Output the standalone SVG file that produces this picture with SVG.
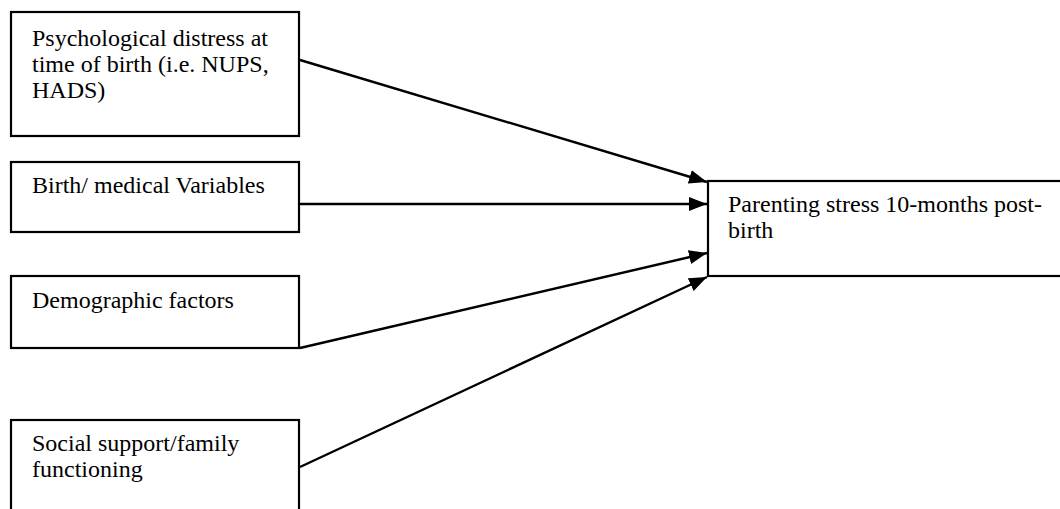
<svg xmlns="http://www.w3.org/2000/svg" width="1060" height="509" viewBox="0 0 1060 509">
  <style>
    .box { fill: #ffffff; stroke: #000000; stroke-width: 2.2; }
    .lbl { font-family: "Liberation Serif", "Times New Roman", serif; font-size: 24px; fill: #000000; }
    .edge { stroke: #000000; stroke-width: 2.4; fill: none; marker-end: url(#arrow); }
  </style>
  <defs>
    <marker id="arrow" markerUnits="userSpaceOnUse" viewBox="0 0 18 14" refX="18" refY="7" markerWidth="18" markerHeight="14" orient="auto">
      <path d="M0,0 L18,7 L0,14 Z" fill="#000000"/>
    </marker>
  </defs>
  <rect width="1060" height="509" fill="#ffffff"/>

  <g id="node-distress">
    <rect class="box" x="11" y="12" width="288" height="124"/>
    <text class="lbl" x="32" y="46">Psychological distress at</text>
    <text class="lbl" x="32" y="72">time of birth (i.e. NUPS,</text>
    <text class="lbl" x="32" y="98">HADS)</text>
  </g>

  <g id="node-birth">
    <rect class="box" x="11" y="162" width="288" height="70"/>
    <text class="lbl" x="32" y="193">Birth/ medical Variables</text>
  </g>

  <g id="node-demographic">
    <rect class="box" x="11" y="276" width="288" height="72"/>
    <text class="lbl" x="32" y="308">Demographic factors</text>
  </g>

  <g id="node-social">
    <rect class="box" x="11" y="420" width="288" height="100"/>
    <text class="lbl" x="32" y="451">Social support/family</text>
    <text class="lbl" x="32" y="477">functioning</text>
  </g>

  <g id="node-outcome">
    <rect class="box" x="708" y="181" width="370" height="95"/>
    <text class="lbl" x="728" y="212">Parenting stress 10-months post-</text>
    <text class="lbl" x="728" y="238">birth</text>
  </g>

  <g id="connectors">
    <line class="edge" x1="300" y1="60" x2="707" y2="182"/>
    <line class="edge" x1="300" y1="204" x2="707" y2="204"/>
    <line class="edge" x1="300" y1="348" x2="707" y2="253"/>
    <line class="edge" x1="300" y1="467" x2="707" y2="277"/>
  </g>
</svg>
